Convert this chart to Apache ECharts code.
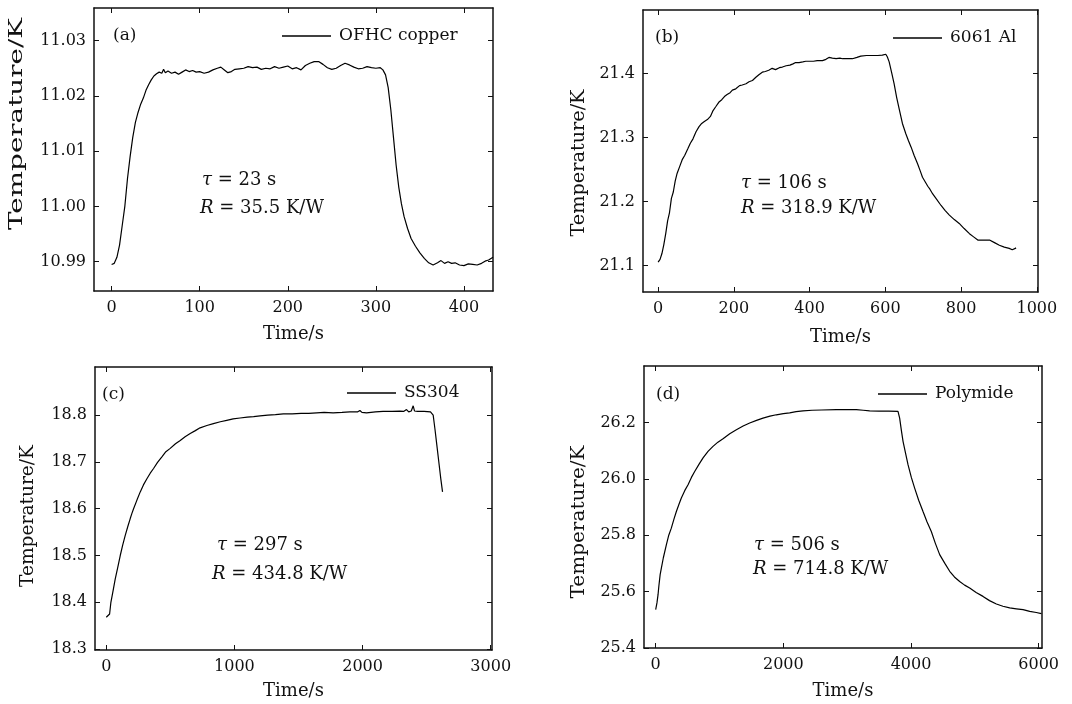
<!DOCTYPE html>
<html><head><meta charset="utf-8">
<script src="https://cdn.jsdelivr.net/npm/echarts@6/dist/echarts.min.js"></script>
<style>html,body{margin:0;padding:0;background:#fff}#c{width:1072px;height:704px}</style>
</head><body><div id="c"></div>
<script>
// ---------- data ----------
const seriesNames = ['OFHC copper', '6061 Al', 'SS304', 'Polymide'];
const panelTags = ['(a)', '(b)', '(c)', '(d)'];
const tauTexts = ['23', '106', '297', '506'];
const resTexts = ['35.5', '318.9', '434.8', '714.8'];

const copperData = [[0,10.9895],[3,10.9897],[6,10.9908],[9,10.9930],[12,10.9965],[15,11.0000],[18,11.0050],[21,11.0090],[24,11.0125],[27,11.0152],[30,11.0170],[33,11.0185],[36,11.0196],[39,11.0210],[42,11.0220],[45,11.0229],[48,11.0236],[51,11.0240],[54,11.0243],[57,11.0241],[59,11.0248],[61,11.0242],[64,11.0245],[68,11.0241],[72,11.0243],[76,11.0239],[80,11.0243],[84,11.0247],[88,11.0244],[92,11.0246],[96,11.0243],[100,11.0244],[105,11.0241],[110,11.0243],[115,11.0247],[120,11.0250],[124,11.0252],[128,11.0247],[132,11.0242],[136,11.0244],[140,11.0248],[145,11.0249],[150,11.0250],[155,11.0253],[160,11.0251],[165,11.0252],[170,11.0248],[175,11.0250],[180,11.0249],[185,11.0253],[190,11.0250],[195,11.0252],[200,11.0254],[205,11.0249],[210,11.0251],[215,11.0247],[220,11.0255],[225,11.0259],[230,11.0262],[235,11.0262],[240,11.0257],[245,11.0251],[250,11.0248],[255,11.0250],[260,11.0255],[265,11.0259],[270,11.0256],[275,11.0252],[280,11.0249],[285,11.0250],[290,11.0253],[295,11.0251],[300,11.0250],[305,11.0251],[308,11.0247],[311,11.0238],[314,11.0215],[317,11.0175],[320,11.0125],[323,11.0075],[326,11.0035],[329,11.0005],[332,10.9982],[336,10.9960],[340,10.9942],[345,10.9928],[350,10.9916],[355,10.9906],[360,10.9898],[365,10.9894],[370,10.9898],[374,10.9902],[378,10.9897],[382,10.9900],[386,10.9897],[390,10.9898],[395,10.9894],[400,10.9893],[405,10.9896],[410,10.9895],[415,10.9894],[420,10.9897],[424,10.9901],[428,10.9903],[433,10.9908]];

const aluminiumData = [[0,21.1056],[5,21.110],[10,21.119],[15,21.133],[20,21.150],[25,21.170],[30,21.183],[35,21.205],[40,21.215],[45,21.232],[50,21.244],[57,21.255],[64,21.266],[70,21.272],[78,21.282],[85,21.291],[92,21.298],[100,21.309],[108,21.317],[115,21.322],[122,21.325],[130,21.328],[138,21.333],[145,21.342],[152,21.348],[160,21.355],[168,21.359],[175,21.364],[182,21.367],[190,21.370],[196,21.374],[205,21.376],[215,21.381],[222,21.382],[232,21.384],[240,21.387],[249,21.389],[258,21.394],[266,21.398],[275,21.402],[283,21.403],[292,21.405],[301,21.408],[310,21.406],[320,21.409],[328,21.410],[338,21.412],[348,21.413],[356,21.415],[363,21.417],[372,21.417],[382,21.418],[390,21.419],[398,21.419],[410,21.419],[420,21.420],[434,21.420],[443,21.422],[451,21.425],[460,21.424],[470,21.423],[480,21.424],[487,21.423],[500,21.423],[513,21.423],[525,21.425],[535,21.427],[550,21.428],[565,21.428],[580,21.428],[592,21.4286],[597,21.430],[601,21.430],[605,21.426],[610,21.418],[617,21.400],[623,21.384],[630,21.362],[637,21.343],[645,21.322],[654,21.306],[661,21.295],[668,21.285],[676,21.272],[685,21.259],[692,21.248],[698,21.238],[705,21.231],[712,21.224],[718,21.219],[725,21.212],[735,21.204],[747,21.194],[758,21.186],[769,21.179],[782,21.172],[795,21.166],[808,21.158],[822,21.150],[833,21.145],[844,21.140],[855,21.140],[865,21.140],[875,21.140],[888,21.136],[901,21.132],[914,21.129],[927,21.127],[935,21.125],[940,21.124],[943,21.127],[945,21.128]];

const steelData = [[0,18.368],[15,18.371],[26,18.375],[32,18.390],[36,18.400],[50,18.420],[70,18.450],[90,18.475],[109,18.500],[128,18.522],[148,18.543],[168,18.562],[187,18.579],[200,18.590],[213,18.600],[240,18.619],[265,18.636],[290,18.651],[317,18.664],[343,18.676],[369,18.686],[400,18.699],[434,18.711],[465,18.722],[499,18.729],[540,18.739],[577,18.746],[615,18.754],[655,18.761],[695,18.767],[732,18.773],[785,18.778],[836,18.782],[890,18.786],[940,18.789],[990,18.792],[1044,18.794],[1100,18.796],[1150,18.797],[1200,18.7986],[1260,18.800],[1320,18.801],[1382,18.8029],[1450,18.803],[1520,18.804],[1580,18.804],[1642,18.805],[1700,18.806],[1770,18.805],[1840,18.806],[1901,18.807],[1960,18.807],[1979,18.810],[1995,18.806],[2031,18.805],[2100,18.807],[2160,18.808],[2230,18.808],[2291,18.8086],[2320,18.808],[2343,18.812],[2360,18.807],[2380,18.809],[2395,18.820],[2405,18.809],[2430,18.808],[2480,18.808],[2530,18.807],[2551,18.800],[2565,18.770],[2580,18.735],[2595,18.700],[2610,18.665],[2624,18.636]];

const polymideData = [[0,25.536],[12,25.538],[20,25.560],[37,25.589],[50,25.620],[70,25.660],[89,25.683],[120,25.720],[167,25.766],[205,25.800],[245,25.825],[285,25.856],[324,25.884],[365,25.910],[402,25.932],[455,25.958],[507,25.979],[560,26.005],[611,26.026],[680,26.052],[742,26.074],[820,26.097],[898,26.115],[975,26.130],[1055,26.142],[1160,26.160],[1264,26.174],[1370,26.187],[1473,26.198],[1580,26.207],[1681,26.215],[1790,26.222],[1890,26.227],[2000,26.231],[2099,26.234],[2200,26.238],[2308,26.241],[2450,26.243],[2600,26.244],[2830,26.245],[3000,26.245],[3144,26.245],[3250,26.243],[3352,26.241],[3500,26.240],[3650,26.240],[3796,26.239],[3810,26.232],[3822,26.215],[3850,26.170],[3875,26.133],[3915,26.090],[3953,26.050],[4005,26.005],[4057,25.967],[4120,25.924],[4188,25.884],[4250,25.848],[4318,25.813],[4380,25.772],[4449,25.731],[4530,25.700],[4606,25.672],[4680,25.652],[4762,25.636],[4840,25.623],[4919,25.613],[5020,25.597],[5128,25.583],[5230,25.568],[5337,25.556],[5440,25.548],[5546,25.542],[5650,25.539],[5755,25.536],[5860,25.530],[5963,25.526],[6042,25.522]];

const xTicksA = [0, 100, 200, 300, 400];
const yTicksA = [10.99, 11.00, 11.01, 11.02, 11.03];
const xTicksB = [0, 200, 400, 600, 800, 1000];
const yTicksB = [21.1, 21.2, 21.3, 21.4];
const xTicksC = [0, 1000, 2000, 3000];
const yTicksC = [18.3, 18.4, 18.5, 18.6, 18.7, 18.8];
const xTicksD = [0, 2000, 4000, 6000];
const yTicksD = [25.4, 25.6, 25.8, 26.0, 26.2];

const xAxisTitle = 'Time/s';
const yAxisTitle = 'Temperature/K';

// ---------- layout / style ----------
const FONT = 'DejaVu Serif';
const INK = '#111';
const panels = [
  {data: copperData, grid:{left:94,top:8,width:399,height:283}, x:[-20,433], y:[10.9847,11.0359], xt:xTicksA, yt:yTicksA, dec:2, xGap:34,
   legend:{left:282, cy:36}, tag:[113,36], tau:[202,180], res:[200,208], yName:[17,124,212]},
  {data: aluminiumData, grid:{left:643,top:10,width:395,height:282}, x:[-40,1003], y:[21.059,21.499], xt:xTicksB, yt:yTicksB, dec:1, xGap:36,
   legend:{left:893, cy:38}, tag:[655,38], tau:[741,183], res:[741,208], yName:[579,163,147]},
  {data: steelData, grid:{left:95,top:367,width:397,height:283}, x:[-88,3010], y:[18.298,18.903], xt:xTicksC, yt:yTicksC, dec:1, xGap:32,
   legend:{left:347, cy:393}, tag:[102,395], tau:[217,545], res:[212,574], yName:[28,516,142]},
  {data: polymideData, grid:{left:644,top:366,width:398,height:282}, x:[-183,6052], y:[25.4,26.4], xt:xTicksD, yt:yTicksD, dec:1, xGap:34,
   legend:{left:878, cy:394}, tag:[656,395], tau:[754,545], res:[753,569], yName:[579,522,153]}
];

function measure(text, font) {
  const ctx = document.createElement('canvas').getContext('2d');
  ctx.font = font;
  return ctx.measureText(text).width;
}

const grids = [], xAxes = [], yAxes = [], series = [], legends = [], graphics = [];
const axisLineStyle = {color: INK, width: 1.5};
panels.forEach((p, i) => {
  grids.push(Object.assign({outerBoundsMode: 'none', containLabel: false}, p.grid));
  const baseX = {type:'value', gridIndex:i, min:p.x[0], max:p.x[1], splitLine:{show:false},
    axisLine:{show:true, onZero:false, lineStyle:axisLineStyle}};
  xAxes.push(Object.assign({}, baseX, {position:'bottom',
    axisTick:{show:true, inside:true, length:5, customValues:p.xt, lineStyle:{color:INK, width:1}},
    axisLabel:{show:true, customValues:p.xt, fontFamily:FONT, fontSize:16, color:INK, margin:9,
      formatter: v => String(Math.round(v))},
    name:xAxisTitle, nameLocation:'middle', nameGap:p.xGap, nameTextStyle:{fontFamily:FONT, fontSize:18, color:INK}}));
  xAxes.push(Object.assign({}, baseX, {position:'top',
    axisTick:{show:true, inside:true, length:5, customValues:p.xt, lineStyle:{color:INK, width:1}},
    axisLabel:{show:false}}));
  const baseY = {type:'value', gridIndex:i, min:p.y[0], max:p.y[1], splitLine:{show:false},
    axisLine:{show:true, onZero:false, lineStyle:axisLineStyle}};
  yAxes.push(Object.assign({}, baseY, {position:'left',
    axisTick:{show:true, inside:true, length:5, customValues:p.yt, lineStyle:{color:INK, width:1}},
    axisLabel:{show:true, customValues:p.yt, fontFamily:FONT, fontSize:16, color:INK, margin:8,
      formatter: v => Number(v).toFixed(p.dec)}}));
  yAxes.push(Object.assign({}, baseY, {position:'right',
    axisTick:{show:true, inside:true, length:5, customValues:p.yt, lineStyle:{color:INK, width:1}},
    axisLabel:{show:false}}));
  series.push({type:'line', name:seriesNames[i], xAxisIndex:2*i, yAxisIndex:2*i, data:p.data,
    symbol:'none', showSymbol:false, smooth:false, silent:true, animation:false,
    lineStyle:{color:'#000', width:1.2}, itemStyle:{color:'#000'}});
  legends.push({data:[{name:seriesNames[i], icon:'rect'}], left:p.legend.left, top:p.legend.cy - 10, height:20,
    padding:0, itemGap:0, itemWidth:49, itemHeight:1.3, selectedMode:false, icon:'rect',
    itemStyle:{color:'#000', borderWidth:0}, lineStyle:{width:0},
    textStyle:{fontFamily:FONT, fontSize:17, color:INK, padding:[0,0,0,3], lineHeight:20}});
  graphics.push({type:'text', x:p.tag[0], y:p.tag[1],
    style:{text:panelTags[i], fontFamily:FONT, fontSize:17, fill:INK, align:'left', verticalAlign:'middle'}});
  const rich = {i:{fontStyle:'italic', fontFamily:FONT, fontSize:18, fill:INK}};
  graphics.push({type:'text', x:p.tau[0], y:p.tau[1],
    style:{text:'{i|\u03c4} = ' + tauTexts[i] + ' s', rich:rich, fontFamily:FONT, fontSize:18, fill:INK, align:'left', verticalAlign:'middle'}});
  graphics.push({type:'text', x:p.res[0], y:p.res[1],
    style:{text:'{i|R} = ' + resTexts[i] + ' K/W', rich:rich, fontFamily:FONT, fontSize:18, fill:INK, align:'left', verticalAlign:'middle'}});
  const natural = measure(yAxisTitle, '18px "' + FONT + '"') || 140;
  graphics.push({type:'text', x:p.yName[0], y:p.yName[1], rotation:Math.PI/2, scaleX:p.yName[2]/natural, scaleY:1,
    style:{text:yAxisTitle, fontFamily:FONT, fontSize:18, fill:INK, align:'center', verticalAlign:'middle'}});
});

const chart = echarts.init(document.getElementById('c'), null, {renderer:'canvas'});
chart.setOption({
  animation:false,
  backgroundColor:'#fff',
  grid:grids, xAxis:xAxes, yAxis:yAxes, series:series, legend:legends, graphic:graphics
});
</script>
</body></html>
